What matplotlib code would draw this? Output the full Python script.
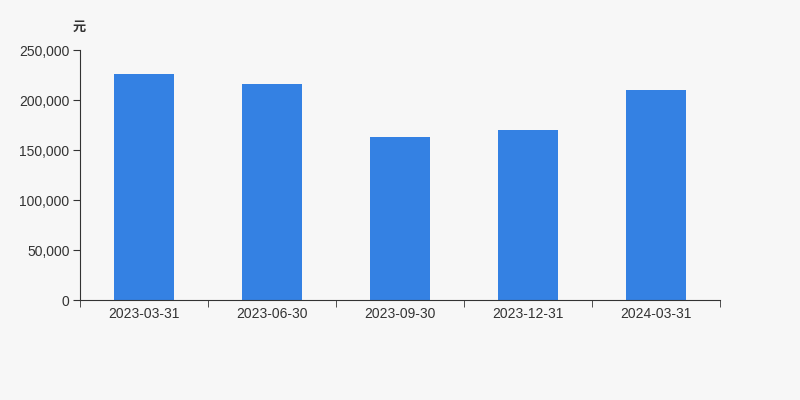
import numpy as np
import matplotlib.pyplot as plt
from matplotlib.ticker import FuncFormatter

plt.rcParams['font.family'] = ['Liberation Sans', 'Noto Sans CJK SC']

dates = ["2023-03-31", "2023-06-30", "2023-09-30", "2023-12-31", "2024-03-31"]
values = [225800, 216000, 162900, 170200, 210400]
unit = "元"

bg = "#f7f7f7"
fig = plt.figure(figsize=(8, 4), dpi=100, facecolor=bg)
ax = fig.add_axes([0.1, 0.249, 0.8, 0.626], facecolor=bg)

x = np.arange(len(dates))
ax.bar(x, values, width=60/128, color="#3481e3", zorder=2)

ax.set_xlim(-0.5, len(dates) - 0.5)
ax.set_ylim(0, 250000)
ax.set_yticks(np.arange(0, 250001, 50000))
ax.yaxis.set_major_formatter(FuncFormatter(lambda v, p: f"{int(v):,}"))

ax.set_xticks(x)
ax.set_xticklabels(dates)
ax.set_xticks(np.arange(-0.5, len(dates)), minor=True)
ax.tick_params(axis='x', which='major', length=0, pad=5, labelsize=10, labelcolor="#333333")
ax.tick_params(axis='x', which='minor', length=5, color="#333333")
ax.tick_params(axis='y', length=5, color="#333333", labelsize=10, labelcolor="#333333", pad=2.5)

for s in ["top", "right"]:
    ax.spines[s].set_visible(False)
ax.spines["left"].set_color("#333333")
ax.spines["bottom"].set_color("#333333")

fig.text(0.099, 0.932, unit, ha='center', va='center', fontsize=9.5, color="#333333",
         fontweight='bold', family=['Noto Sans CJK SC', 'DejaVu Sans'])

fig.savefig("out.png", dpi=100, facecolor=bg)
